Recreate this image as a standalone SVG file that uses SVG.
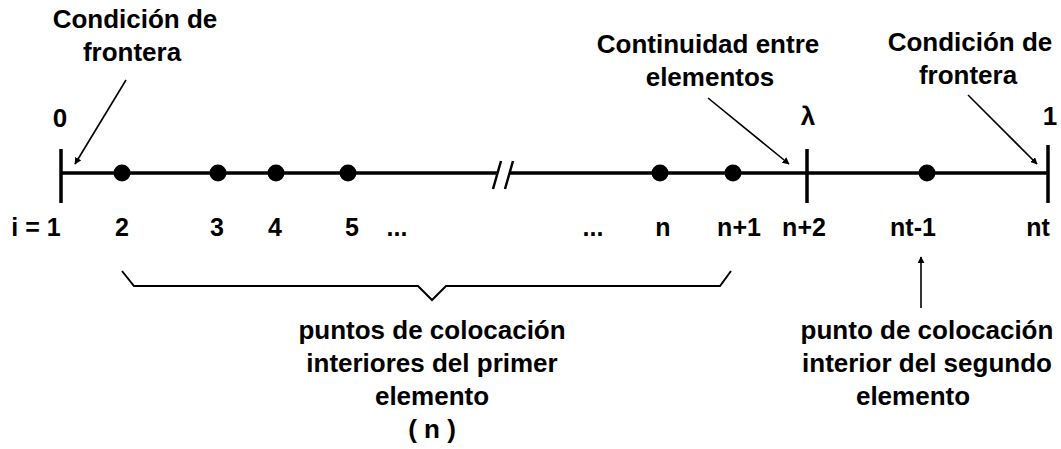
<svg xmlns="http://www.w3.org/2000/svg" width="1061" height="449" viewBox="0 0 1061 449">
<style>
text{font-family:"Liberation Sans",Arial,sans-serif;font-weight:bold;font-size:26px;fill:#000;text-anchor:middle}
.num{font-size:25px}
.axis{stroke:#000;stroke-width:3.5;fill:none}
.ptr{stroke:#000;stroke-width:1.6;fill:none}
</style>
<defs>
<marker id="ah" viewBox="0 0 10 10" refX="9" refY="5" markerWidth="7" markerHeight="7" markerUnits="userSpaceOnUse" orient="auto">
<path d="M0,0 L10,5 L0,10 z" fill="#000"/>
</marker>
</defs>
<rect width="1061" height="449" fill="#fff"/>
<g id="axis">
<path class="axis" d="M61,173 H497 M509,173 H1048"/>
<path class="axis" d="M61,149 V203 M807,149 V203 M1048,145 V203"/>
<path stroke="#000" stroke-width="2.5" d="M493,189 L501,161 M505,189 L513,161"/>
</g>
<g id="points" fill="#000">
<circle cx="122" cy="173" r="8.5"/>
<circle cx="218" cy="173" r="8.5"/>
<circle cx="276" cy="173" r="8.5"/>
<circle cx="348" cy="173" r="8.5"/>
<circle cx="660" cy="173" r="8.5"/>
<circle cx="733" cy="173" r="8.5"/>
<circle cx="927" cy="173" r="8.5"/>
</g>
<g id="end-labels">
<text x="60" y="127">0</text>
<text x="808" y="125">λ</text>
<text x="1050" y="125">1</text>
</g>
<g id="index-labels">
<text class="num" x="36" y="236">i = 1</text>
<text class="num" x="122" y="236">2</text>
<text class="num" x="217" y="236">3</text>
<text class="num" x="275" y="236">4</text>
<text class="num" x="352" y="236">5</text>
<text class="num" x="397" y="236">...</text>
<text class="num" x="593" y="236">...</text>
<text class="num" x="663" y="236">n</text>
<text class="num" x="739" y="236">n+1</text>
<text class="num" x="804" y="236">n+2</text>
<text class="num" x="913" y="236">nt-1</text>
<text class="num" x="1038" y="236">nt</text>
</g>
<g id="label-left-boundary">
<text x="135" y="28">Condición de</text>
<text x="132" y="61">frontera</text>
</g>
<g id="label-continuity">
<text x="708" y="53">Continuidad entre</text>
<text x="710" y="86">elementos</text>
</g>
<g id="label-right-boundary">
<text x="970" y="51">Condición de</text>
<text x="968" y="84">frontera</text>
</g>
<g id="label-first-element">
<text x="432" y="339">puntos de colocación</text>
<text x="432" y="372">interiores del primer</text>
<text x="432" y="405">elemento</text>
<text x="432" y="438">( n )</text>
</g>
<g id="label-second-element">
<text x="927" y="339">punto de colocación</text>
<text x="927" y="372">interior del segundo</text>
<text x="913" y="405">elemento</text>
</g>
<g id="connectors">
<path class="ptr" marker-end="url(#ah)" d="M126,80 L75,164"/>
<path class="ptr" marker-end="url(#ah)" d="M708,98 L789,164"/>
<path class="ptr" marker-end="url(#ah)" d="M968,95 L1037,164"/>
<path class="ptr" marker-end="url(#ah)" d="M921,308 L921,257"/>
<path stroke="#000" stroke-width="2" fill="none" d="M122,271 L134,286 H418 L432,300 L446,286 H720 L731,271"/>
</g>
</svg>
